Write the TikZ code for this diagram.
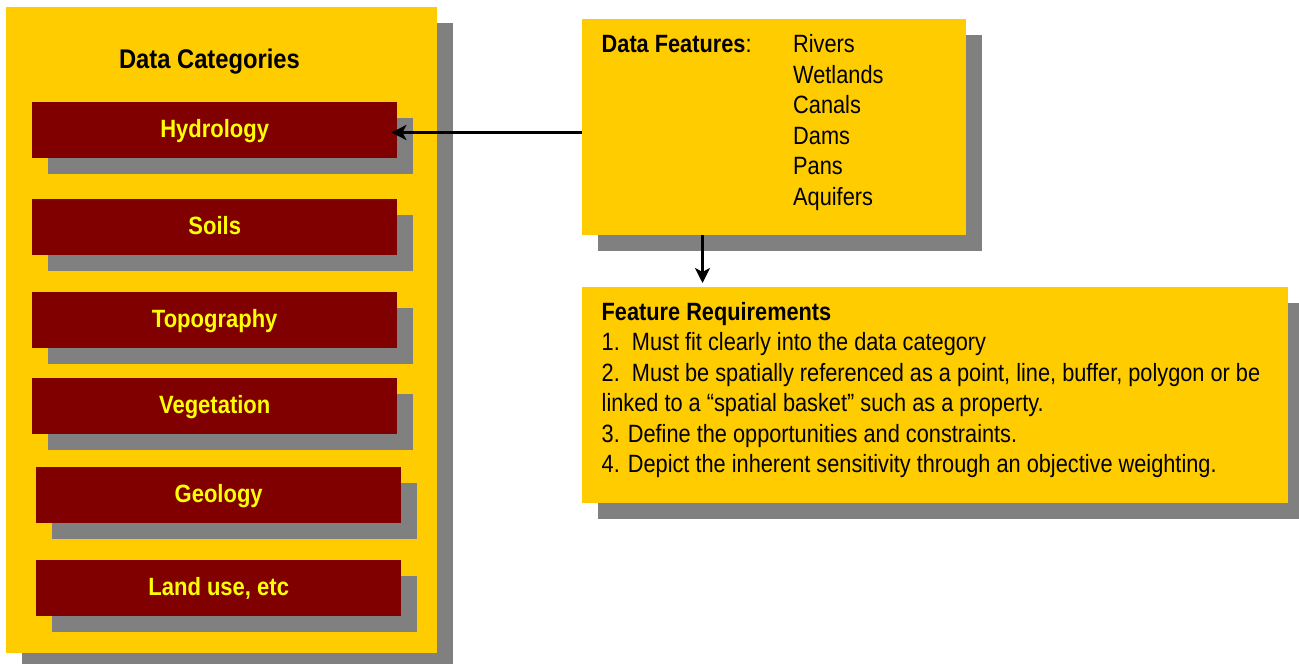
\documentclass[tikz,border=0pt]{standalone}
\usepackage{fontspec}
\setmainfont[FakeStretch=0.88]{Liberation Sans}
\newfontfamily\bodyfont[FakeStretch=0.87]{Liberation Sans}
\usetikzlibrary{shadows,arrows.meta,calc}
\definecolor{boxyellow}{HTML}{FFCC00}
\definecolor{catred}{HTML}{800000}
\definecolor{shadowgray}{HTML}{808080}
\definecolor{labelyellow}{HTML}{FFFF00}

\begin{document}
\begin{tikzpicture}[x=1pt,y=-1pt,
  shadowed/.style={drop shadow={shadow xshift=16pt,shadow yshift=-16pt,fill=shadowgray,opacity=1}},
  panel/.style={shadowed,fill=boxyellow,inner sep=0pt,anchor=north west,rectangle},
  category/.style={shadowed,fill=catred,text=labelyellow,inner sep=0pt,anchor=north west,
    minimum width=365pt,minimum height=56pt,
    font=\fontsize{25}{30}\selectfont\bfseries,text height=19pt,text depth=5pt},
  bodytext/.style={font=\bodyfont\fontsize{25}{30.5}\selectfont,inner sep=0pt,anchor=base west},
  link/.style={-{Stealth[length=15pt,width=15pt,inset=4pt]},line width=3.6pt}
]
\useasboundingbox (0,0) rectangle (1299,664);
\clip (0,0) rectangle (1299,664);

% left panel with the list of categories
\node[panel,minimum width=431pt,minimum height=646pt] (cat) at (6,7) {};
\node[font=\fontsize{27}{30}\selectfont\bfseries,inner sep=0pt,anchor=base] (cattitle) at (209.5,68) {Data Categories};

\node[category] (hydro) at (32,102) {Hydrology};
\node[category] (soils) at (32,199) {Soils};
\node[category] (topo)  at (32,292) {Topography};
\node[category] (veg)   at (32,378) {Vegetation};
\node[category] (geo)   at (36,467) {Geology};
\node[category] (land)  at (36,560) {Land use, etc};

% feature panel
\node[panel,minimum width=384pt,minimum height=216pt] (feat) at (582,19) {};
\node[bodytext] (feattitle) at (601.5,52.7) {\textbf{Data Features}:};
\node[bodytext] (featlist) at (793,52.7) {\parbox[t]{160pt}{Rivers\\Wetlands\\Canals\\Dams\\Pans\\Aquifers}};

% requirements panel
\node[panel,minimum width=706pt,minimum height=216pt] (req) at (582,287) {};
\node[bodytext] (reqtext) at (601.5,320) {\parbox[t]{680pt}{\textbf{Feature Requirements}\\
1.\ \ Must fit clearly into the data category\\
2.\ \ Must be spatially referenced as a point, line, buffer, polygon or be\\
linked to a “spatial basket” such as a property.\\
3. Define the opportunities and constraints.\\
4. Depict the inherent sensitivity through an objective weighting.}};

% connectors
\draw[link,shorten >=-6pt] (feat.west |- 0,132.5) -- (hydro.east |- 0,132.5);
\coordinate (drop) at ($(feat.south west)+(120.5,0)$);
\draw[link,shorten >=4pt] (drop) -- (drop |- req.north);
\end{tikzpicture}
\end{document}
